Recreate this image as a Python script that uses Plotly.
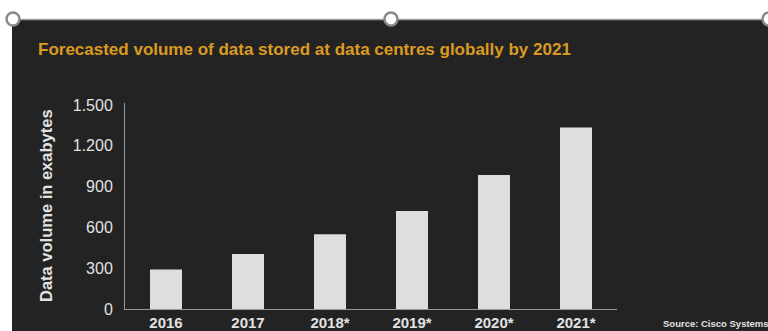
import plotly.graph_objects as go

categories = ["2016", "2017", "2018*", "2019*", "2020*", "2021*"]
values = [290, 405, 550, 720, 985, 1335]
y_ticks = [0, 300, 600, 900, 1200, 1500]

title_text = "Forecasted volume of data stored at data centres globally by 2021"
ytitle_text = "Data volume in exabytes"
source_text = "Source: Cisco Systems"

W, H = 768, 331
L, R, T, B = 125, 151, 103, 22
PW, PH = W - L - R, H - T - B

def px(x):
    return (x - L) / PW

def py(y):
    return (H - B - y) / PH

BG = "#232323"
ORANGE = "#DB9A22"
TXT = "#E2E2E2"
BAR = "#DEDEDE"
FONT = "Liberation Sans, Arial, sans-serif"

fig = go.Figure(go.Bar(
    x=categories, y=values, marker=dict(color=BAR, line=dict(width=0)),
    width=0.39,
))

shapes = [
    dict(type="rect", xref="paper", yref="paper", x0=px(12), x1=px(790),
         y0=py(20), y1=py(345), fillcolor=BG, line=dict(width=0), layer="below"),
    dict(type="line", xref="paper", yref="paper", x0=px(12), x1=px(790),
         y0=py(19.5), y1=py(19.5), line=dict(color="#A0A0A0", width=1.5)),
]
for cx in [13, 391, 769]:
    shapes.append(dict(type="circle", xref="paper", yref="paper",
                       xsizemode="pixel", ysizemode="pixel",
                       xanchor=px(cx), yanchor=py(19),
                       x0=-6.5, x1=6.5, y0=-6.5, y1=6.5,
                       fillcolor="white", line=dict(color="#8A8A8A", width=2.5)))

annotations = [
    dict(text=title_text, xref="paper", yref="paper", x=px(36), y=py(50),
         xanchor="left", yanchor="middle", showarrow=False,
         font=dict(family=FONT, size=17, color=ORANGE, weight="bold")),
    dict(text=ytitle_text, xref="paper", yref="paper", x=px(46), y=py(206),
         xanchor="center", yanchor="middle", showarrow=False, textangle=-90,
         font=dict(family=FONT, size=16.5, color=TXT, weight="bold")),
    dict(text=source_text, xref="paper", yref="paper", x=px(661), y=py(323),
         xanchor="left", yanchor="middle", showarrow=False,
         font=dict(family=FONT, size=9.5, color=TXT, weight="bold")),
]

fig.update_layout(
    width=W, height=H,
    margin=dict(l=L, r=R, t=T, b=B, pad=0, autoexpand=False),
    paper_bgcolor="white", plot_bgcolor="rgba(0,0,0,0)",
    separators=",.",
    showlegend=False,
    shapes=shapes,
    annotations=annotations,
    xaxis=dict(type="category", range=[-0.5, 5.5], showgrid=False, automargin=False,
               showline=True, linecolor="#9A9A9A", linewidth=1,
               ticks="", tickfont=dict(family=FONT, size=15, color=TXT, weight="bold"),
               ticklabelstandoff=0, fixedrange=True, zeroline=False),
    yaxis=dict(range=[0, 1515], tickvals=y_ticks, tickformat=",d", automargin=False,
               showgrid=False, showline=True, linecolor="#9A9A9A", linewidth=1,
               ticks="", tickfont=dict(family=FONT, size=16, color=TXT),
               ticklabelstandoff=8, zeroline=False, fixedrange=True),
)

fig.write_html("out.html")
